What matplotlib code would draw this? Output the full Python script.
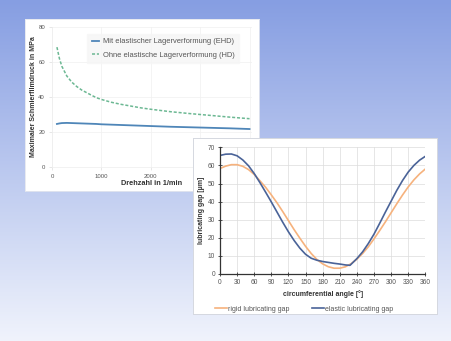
import numpy as np
import matplotlib
matplotlib.use("Agg")
import matplotlib.pyplot as plt

plt.rcParams['font.family'] = ['Liberation Sans', 'DejaVu Sans']

# --- Chart 1: peak film pressure vs. speed ---
speed = [100, 150, 200, 300, 400, 500, 600, 700, 800, 900, 1000, 1200, 1400,
         1600, 1800, 2000, 2400, 2800, 3200, 3600, 4000]
p_ehd = [24.6, 24.9, 25.1, 25.2, 25.1, 25.0, 24.9, 24.8, 24.7, 24.6, 24.4, 24.2,
         24.0, 23.8, 23.6, 23.4, 23.0, 22.7, 22.4, 22.1, 21.7]
p_hd = [68.5, 62.0, 57.5, 52.0, 48.5, 46.0, 44.0, 42.5, 41.0, 39.6, 38.6, 37.0,
        35.8, 34.8, 33.8, 33.0, 31.6, 30.5, 29.5, 28.5, 27.6]
label_ehd = "Mit elastischer Lagerverformung (EHD)"
label_hd = "Ohne elastische Lagerverformung (HD)"
x1_ticks = [0, 1000, 2000, 3000, 4000]
# the 3000/4000 labels sit beneath the second panel, so they stay blank
x1_ticklabels = ['0', '1000', '2000', '', '']
y1_ticks = [0, 20, 40, 60, 80]

# --- Chart 2: lubricating gap around the circumference ---
angle_rigid = list(range(0, 361, 10))
gap_rigid = [58.3, 59.6, 60.4, 60.4, 59.5, 57.7, 55.0, 51.5, 47.9, 43.7, 39.3,
             34.5, 29.5, 24.5, 19.8, 15.3, 11.3, 8.0, 5.6, 4.0, 3.2, 3.2, 4.0,
             5.7, 8.2, 11.3, 15.0, 19.4, 24.0, 28.8, 33.8, 38.8, 43.6, 48.1,
             52.0, 55.3, 58.0]
angle_elastic = [0, 10, 20, 30, 40, 50, 60, 70, 80, 90, 100, 110, 120, 130, 140,
                 150, 160, 170, 180, 190, 200, 210, 220, 228, 240, 250, 260, 270,
                 280, 290, 300, 310, 320, 330, 340, 350, 360]
gap_elastic = [65.5, 66.2, 66.3, 65.3, 63.0, 59.8, 55.5, 50.5, 45.2, 39.8, 34.2,
               28.6, 23.3, 18.5, 14.3, 10.9, 8.7, 7.6, 6.9, 6.4, 5.9, 5.5, 5.0,
               4.8, 8.5, 12.2, 16.8, 22.0, 28.0, 34.2, 40.2, 46.2, 51.6, 56.3,
               60.0, 62.9, 65.0]
x2_ticks = list(range(0, 361, 30))
y2_ticks = list(range(0, 71, 10))

W, H = 452, 341
fig = plt.figure(figsize=(W / 100, H / 100), dpi=100)


def box(x0, y0, x1, y1):
    """Pixel box (left, top, right, bottom) -> figure fraction rect."""
    return [x0 / W, 1 - y1 / H, (x1 - x0) / W, (y1 - y0) / H]


# background gradient
bg = fig.add_axes([0, 0, 1, 1])
bg.set_zorder(0)
top = np.array([134, 158, 226]) / 255
bottom = np.array([240, 243, 252]) / 255
t = np.linspace(0, 1, 256)[:, None]
grad = (1 - t) * top + t * bottom
bg.imshow(grad[:, None, :].repeat(2, axis=1), aspect='auto', extent=[0, 1, 0, 1])
bg.axis('off')

# panel 1
pan1 = fig.add_axes(box(25, 19, 259, 191))
pan1.set_zorder(1)
pan1.set_facecolor('white')
pan1.set_xticks([]); pan1.set_yticks([])
for s in pan1.spines.values():
    s.set_color('#e4e7ee'); s.set_linewidth(0.6)

ax1 = fig.add_axes(box(52, 27, 252, 167))
ax1.set_zorder(2)
ax1.set_facecolor('none')
ax1.plot(speed, p_ehd, color='#4f86b8', lw=1.3, label=label_ehd)
ax1.plot(speed, p_hd, color='#6cb893', lw=1.1, ls=(0, (2, 1.2)), label=label_hd)
ax1.set_xlim(0, 4050)
ax1.set_ylim(0, 80)
ax1.set_xticks(x1_ticks)
ax1.set_xticklabels(x1_ticklabels)
ax1.set_yticks(y1_ticks)
ax1.grid(True, color='#f0f0f0', lw=0.5)
for side in ['top', 'right']:
    ax1.spines[side].set_visible(False)
for side in ['left', 'bottom']:
    ax1.spines[side].set_color('#ededed'); ax1.spines[side].set_linewidth(0.5)
ax1.tick_params(labelsize=4.3, colors='#dddddd', labelcolor='#555555',
                length=2, width=0.5, pad=3)
ax1.set_xlabel("Drehzahl in 1/min", fontsize=5.3, fontweight='bold',
               color='#333333', labelpad=1)
ax1.set_ylabel("Maximaler Schmierfilmdruck in MPa", fontsize=5.0,
               fontweight='bold', color='#333333', labelpad=1)
leg1 = ax1.legend(loc='upper right', bbox_to_anchor=(0.955, 0.98), fontsize=5.4,
                  frameon=True, fancybox=False, handlelength=1.0,
                  handletextpad=0.5, borderpad=0.6, labelspacing=0.8)
leg1.get_frame().set_facecolor('#f6f6f6')
leg1.get_frame().set_edgecolor('#f6f6f6')
for txt in leg1.get_texts():
    txt.set_color('#555555')

# panel 2
pan2 = fig.add_axes(box(193, 138, 437, 314))
pan2.set_zorder(3)
pan2.set_facecolor('white')
pan2.set_xticks([]); pan2.set_yticks([])
for s in pan2.spines.values():
    s.set_color('#d5d8e0'); s.set_linewidth(0.7)

ax2 = fig.add_axes(box(220, 147.3, 425.3, 274))
ax2.set_zorder(4)
ax2.set_facecolor('none')
ax2.plot(angle_rigid, gap_rigid, color='#f6b27d', lw=1.2,
         label='rigid lubricating gap')
ax2.plot(angle_elastic, gap_elastic, color='#4a6398', lw=1.2,
         label='elastic lubricating gap')
ax2.set_xlim(0, 360)
ax2.set_ylim(0, 70)
ax2.set_xticks(x2_ticks)
ax2.set_yticks(y2_ticks)
ax2.grid(True, color='#dcdcdc', lw=0.5)
for side in ['top', 'right']:
    ax2.spines[side].set_visible(False)
for side in ['left', 'bottom']:
    ax2.spines[side].set_color('#333333'); ax2.spines[side].set_linewidth(0.9)
ax2.tick_params(labelsize=4.8, colors='#333333', labelcolor='#555555',
                direction='inout', length=3, width=0.6, pad=2)
ax2.set_xlabel("circumferential angle [°]", fontsize=5.0, fontweight='bold',
               color='#333333', labelpad=3)
ax2.set_ylabel("lubricating gap [µm]", fontsize=5.0, fontweight='bold',
               color='#333333', labelpad=2)
leg2 = ax2.legend(loc='upper center', bbox_to_anchor=(0.41, -0.2), ncol=2,
                  fontsize=5.0, frameon=False, handlelength=1.7,
                  handletextpad=0.1, columnspacing=3.3)
for txt in leg2.get_texts():
    txt.set_color('#555555')

fig.savefig('out.png', dpi=100)
